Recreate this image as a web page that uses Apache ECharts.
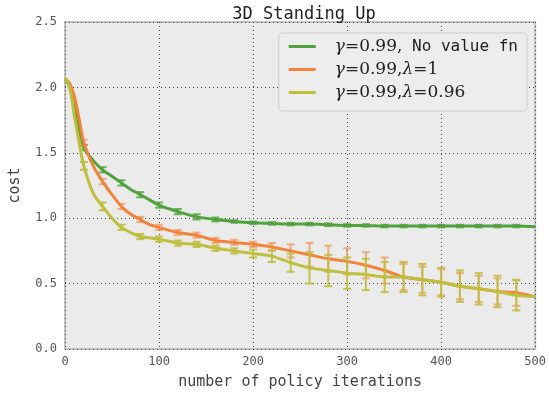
<!DOCTYPE html>
<html><head><meta charset="utf-8">
<script src="https://cdn.jsdelivr.net/npm/echarts@6/dist/echarts.min.js"></script>
<style>html,body{margin:0;padding:0;background:#fff}#c{width:549px;height:396px}</style>
</head><body><div id="c"></div>
<script>
var xs = [0,5,10,15,20,30,40,50,60,70,80,90,100,120,140,160,180,200,220,240,260,280,300,320,340,360,380,400,420,440,460,480,500];
var greenVals = [2.07,2.0,1.84,1.68,1.54,1.44,1.37,1.32,1.27,1.22,1.18,1.14,1.10,1.05,1.01,0.99,0.975,0.965,0.96,0.955,0.955,0.95,0.945,0.945,0.94,0.94,0.94,0.94,0.94,0.94,0.94,0.94,0.935];
var orangeVals = [2.07,2.03,1.93,1.76,1.58,1.40,1.28,1.18,1.09,1.03,0.99,0.95,0.93,0.89,0.87,0.83,0.815,0.80,0.78,0.75,0.72,0.69,0.67,0.64,0.60,0.55,0.53,0.51,0.48,0.46,0.44,0.43,0.40];
var yellowVals = [2.07,2.0,1.78,1.58,1.40,1.19,1.09,1.00,0.93,0.89,0.86,0.85,0.84,0.81,0.80,0.77,0.75,0.73,0.71,0.66,0.62,0.60,0.58,0.57,0.55,0.55,0.53,0.51,0.48,0.46,0.44,0.41,0.40];
var errX = [20,40,60,80,100,120,140,160,180,200,220,240,260,280,300,320,340,360,380,400,420,440,460,480];
var greenErr = [0.02,0.02,0.02,0.02,0.02,0.02,0.02,0.015,0.01,0.01,0.01,0.01,0.01,0.01,0.01,0.01,0.01,0.01,0.01,0.01,0.01,0.01,0.01,0.01];
var orangeErr = [0.02,0.02,0.02,0.02,0.02,0.02,0.02,0.02,0.02,0.02,0.03,0.05,0.09,0.1,0.1,0.1,0.1,0.1,0.1,0.1,0.1,0.1,0.1,0.1];
var yellowErr = [0.03,0.03,0.02,0.02,0.02,0.02,0.02,0.02,0.02,0.03,0.045,0.07,0.12,0.12,0.12,0.12,0.115,0.115,0.12,0.11,0.12,0.12,0.12,0.115];
var xTicks = [0,100,200,300,400,500];
var yTicks = [0.0,0.5,1.0,1.5,2.0,2.5];
var names = ['γ=0.99, No value fn','γ=0.99,λ=1','γ=0.99,λ=0.96'];
var richNames = [
  '{m|γ}{s|=0.99,}{t| No value fn}',
  '{m|γ}{s|=0.99,}{m|λ}{s|=1}',
  '{m|γ}{s|=0.99,}{m|λ}{s|=0.96}'
];
var colors = ['#4FA23C','#F2843A','#BFBF3E'];
var errColors = ['rgba(79,162,60,0.8)','rgba(242,132,58,0.6)','rgba(191,191,62,0.9)'];

function linePairs(vals){ return xs.map(function(x,i){return [x, vals[i]];}); }
function errData(vals, errs){
  return errX.map(function(x,i){
    var v = vals[xs.indexOf(x)];
    return [x, v - errs[i], v + errs[i]];
  });
}
function errSeries(vals, errs, color, z){
  return {
    type:'custom', silent:true, z:z,
    data: errData(vals, errs),
    renderItem: function(params, api){
      var x = api.value(0);
      var lo = api.coord([x, api.value(1)]);
      var hi = api.coord([x, api.value(2)]);
      var hw = 4;
      var st = {stroke: color, lineWidth: 2};
      return {type:'group', children:[
        {type:'line', shape:{x1:lo[0],y1:lo[1],x2:hi[0],y2:hi[1]}, style:st},
        {type:'line', shape:{x1:lo[0]-hw,y1:lo[1],x2:lo[0]+hw,y2:lo[1]}, style:st},
        {type:'line', shape:{x1:hi[0]-hw,y1:hi[1],x2:hi[0]+hw,y2:hi[1]}, style:st}
      ]};
    }
  };
}
var mono = 'DejaVu Sans Mono';
var chart = echarts.init(document.getElementById('c'));
var vals = [greenVals, orangeVals, yellowVals];
var errs = [greenErr, orangeErr, yellowErr];
var series = [];
for (var i=0;i<3;i++){
  series.push({
    name: names[i], type:'line', data: linePairs(vals[i]), smooth:0.3,
    showSymbol:false, symbol:'none', z: 3+i*2,
    lineStyle:{color:colors[i], width:3}, itemStyle:{color:colors[i]}
  });
}
series.splice(1,0, errSeries(greenVals, greenErr, errColors[0], 4));
series.splice(3,0, errSeries(orangeVals, orangeErr, errColors[1], 6));
series.push(errSeries(yellowVals, yellowErr, errColors[2], 8));

chart.setOption({
  animation:false,
  title:{text:'3D Standing Up', left:299, textAlign:'center', top:1,
    textStyle:{fontFamily:mono, fontSize:17, fontWeight:'normal', color:'#222'}},
  grid:{left:62, right:13, top:22, bottom:47, show:true, backgroundColor:'#EBEBEB', borderColor:'#C4C4C4', borderWidth:2},
  legend:{
    data: names, right:22, top:33, orient:'vertical', itemGap:6,
    itemWidth:27, itemHeight:3, icon:'rect',
    backgroundColor:'#EDEDED', borderColor:'#CFCFCF', borderWidth:1, borderRadius:4,
    padding:[5,9,10,10],
    formatter: function(n){ return richNames[names.indexOf(n)]; },
    textStyle:{
      padding:[0,0,0,14],
      rich:{
        m:{fontFamily:'DejaVu Serif', fontStyle:'italic', fontSize:17, color:'#222', lineHeight:19},
        s:{fontFamily:'DejaVu Serif', fontSize:17, color:'#222', lineHeight:19},
        t:{fontFamily:mono, fontSize:16, color:'#222', lineHeight:19}
      }
    }
  },
  xAxis:{
    type:'value', min:0, max:500, interval:100,
    name:'number of policy iterations', nameLocation:'middle', nameGap:26,
    nameTextStyle:{fontFamily:mono, fontSize:15, color:'#444'},
    axisLine:{show:false}, axisTick:{show:false},
    axisLabel:{fontFamily:mono, fontSize:12, color:'#555', margin:7,
      formatter:function(v){return xTicks.indexOf(v)>=0 ? String(v) : '';}},
    splitLine:{show:true, lineStyle:{type:[1,3], color:'#444', width:1}}
  },
  yAxis:{
    type:'value', min:0, max:2.5, interval:0.5,
    name:'cost', nameLocation:'middle', nameGap:42, nameRotate:90,
    nameTextStyle:{fontFamily:mono, fontSize:15, color:'#444'},
    axisLine:{show:false}, axisTick:{show:false},
    axisLabel:{fontFamily:mono, fontSize:12, color:'#555', margin:8,
      formatter:function(v){var t = yTicks.filter(function(y){return Math.abs(y-v)<1e-9;}); return t.length? t[0].toFixed(1):'';}},
    splitLine:{show:true, lineStyle:{type:[1,3], color:'#444', width:1}}
  },
  series: series
});
</script></body></html>
